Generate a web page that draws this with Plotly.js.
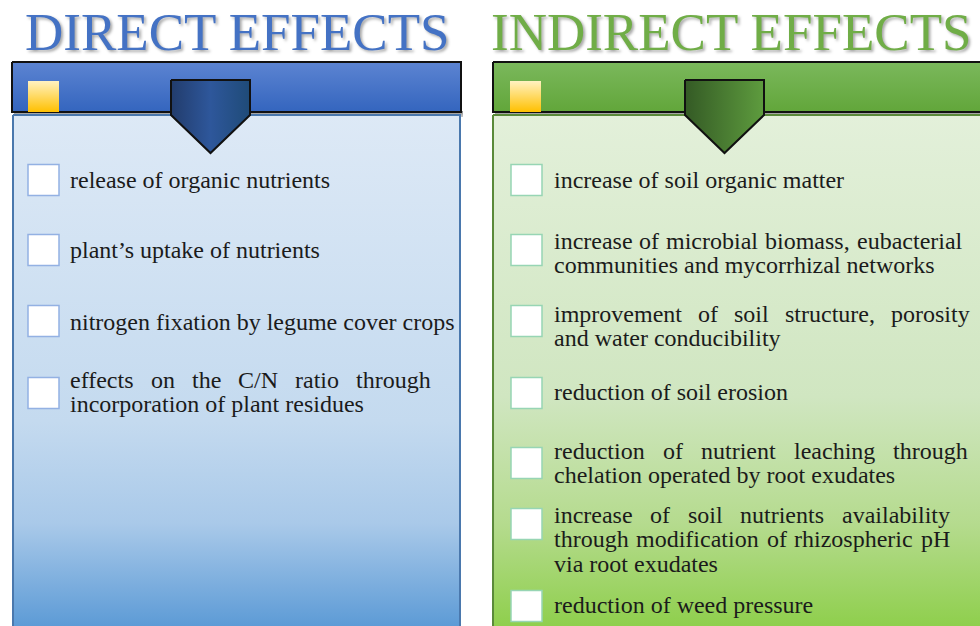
<!DOCTYPE html>
<html>
<head>
<meta charset="utf-8">
<script src="https://cdn.plot.ly/plotly-3.0.1.min.js"></script>
<style>
  body { margin: 0; background: #fff; }
  #chart { width: 980px; height: 626px; }
</style>
</head>
<body>
<div id="chart"></div>
<script>
// titles and item texts (one entry per line of text)
var directTitle = "DIRECT EFFECTS";
var indirectTitle = "INDIRECT EFFECTS";

var directItems = [
  ["release of organic nutrients"],
  ["plant\u2019s uptake of nutrients"],
  ["nitrogen fixation by legume cover crops"],
  ["effects on the C/N ratio through", "incorporation of plant residues"]
];

var indirectItems = [
  ["increase of soil organic matter"],
  ["increase of microbial biomass, eubacterial", "communities and mycorrhizal networks"],
  ["improvement of soil structure, porosity", "and water conducibility"],
  ["reduction of soil erosion"],
  ["reduction of nutrient leaching through", "chelation operated by root exudates"],
  ["increase of soil nutrients availability", "through modification of rhizospheric pH", "via root exudates"],
  ["reduction of weed pressure"]
];

// layout in pixels (y grows downwards)
var directBoxY = [180, 250, 321, 393];
var directTextY = [180, 250, 322, 392];
var directJustify = [0, 0, 0, 430];
var indirectBoxY = [180, 250, 321, 393, 463, 524, 606];
var indirectTextY = [180, 253, 326, 392, 463, 539, 605];
var indirectJustify = [0, 961, 969, 0, 967, 949, 0];
var lineGap = 24.5;
var fontSize = 24;
var serif = "Liberation Serif";

var ctx = document.createElement("canvas").getContext("2d");
ctx.font = fontSize + "px \"" + serif + "\"";

function rectPoly(x0, x1, y0, y1, grad, lineColor, lineWidth) {
  return {
    type: "scatter", mode: "lines",
    x: [x0, x1, x1, x0, x0], y: [y0, y0, y1, y1, y0],
    fill: "toself", fillgradient: grad,
    line: {color: lineColor || "rgba(0,0,0,0)", width: lineWidth || 0},
    hoverinfo: "skip", showlegend: false
  };
}

function vgrad(y0, y1, scale) {
  return {type: "vertical", start: y0, stop: y1, colorscale: scale};
}

function arrow(x0, x1, yTop, yMid, yTip, scale) {
  var xm = (x0 + x1) / 2;
  return {
    type: "scatter", mode: "lines",
    x: [x0, x1, x1, xm, x0, x0], y: [yTop, yTop, yMid, yTip, yMid, yTop],
    fill: "toself",
    fillgradient: {type: "horizontal", start: x0, stop: x1, colorscale: scale},
    line: {color: "#111", width: 2},
    hoverinfo: "skip", showlegend: false
  };
}

var yellow = [[0, "#fff2c2"], [1, "#ffc000"]];

var traces = [
  // left column
  rectPoly(14, 463, 111, 117, vgrad(111, 117, [[0, "#8a8a8a"], [1, "#c8c8c8"]])),
  rectPoly(13, 460, 115, 640,
    vgrad(115, 626, [[0, "#dde9f6"], [0.6, "#c4daef"], [0.8, "#a9c9e9"], [1, "#5d9bd6"]]),
    "#4a78ad", 2),
  rectPoly(12, 461, 62, 112,
    vgrad(62, 112, [[0, "#5c84d2"], [1, "#3465be"]]), "#111", 2),
  rectPoly(28, 59, 81, 112, vgrad(81, 112, yellow)),
  arrow(171, 250, 80, 115, 153, [[0, "#223c6c"], [0.5, "#2e579b"], [1, "#1f4b78"]]),
  // right column
  rectPoly(495, 990, 111, 117, vgrad(111, 117, [[0, "#8a8a8a"], [1, "#c8c8c8"]])),
  rectPoly(493, 990, 115, 640,
    vgrad(115, 626, [[0, "#e3f0da"], [0.55, "#d0e6c1"], [0.8, "#b5db8e"], [1, "#8fcf4d"]]),
    "#5a8a3a", 2),
  rectPoly(493, 990, 62, 112,
    vgrad(62, 112, [[0, "#7bb85c"], [1, "#62a63a"]]), "#111", 2),
  rectPoly(510, 541, 81, 112, vgrad(81, 112, yellow)),
  arrow(685, 764, 80, 115, 153, [[0, "#345a25"], [1, "#5e9c3e"]])
];

var shapes = [];
var annotations = [];

function addTitle(text, x, color) {
  annotations.push({
    x: x, y: 32, xref: "x", yref: "y", text: text, showarrow: false,
    xanchor: "center", yanchor: "middle",
    font: {family: serif, size: 53, color: color, shadow: "2px 2px 3px rgba(0,0,0,0.35)"}
  });
}

function addWord(text, x, y) {
  annotations.push({
    x: x, y: y, xref: "x", yref: "y", text: text, showarrow: false,
    xanchor: "left", yanchor: "middle", borderpad: 0,
    font: {family: serif, size: fontSize, color: "#1b1b1b"}
  });
}

function addItems(items, boxX, boxY, textX, textY, justify, boxColor) {
  items.forEach(function(lines, i) {
    shapes.push({
      type: "rect", xref: "x", yref: "y", layer: "above",
      x0: boxX, x1: boxX + 31, y0: boxY[i] - 15.5, y1: boxY[i] + 15.5,
      fillcolor: "#ffffff", line: {color: boxColor, width: 1.5}
    });
    var y0 = textY[i] - (lines.length - 1) * lineGap / 2;
    lines.forEach(function(line, j) {
      var y = y0 + j * lineGap;
      var last = j === lines.length - 1;
      if (!justify[i] || last) {
        addWord(line, textX, y);
        return;
      }
      // justified line: spread words to the right edge
      var words = line.split(" ");
      var widths = words.map(function(w) { return ctx.measureText(w).width; });
      var total = widths.reduce(function(a, b) { return a + b; }, 0);
      var gap = (justify[i] - textX - total) / (words.length - 1);
      var x = textX;
      words.forEach(function(w, k) {
        addWord(w, x, y);
        x += widths[k] + gap;
      });
    });
  });
}

addTitle(directTitle, 237, "#4472c4");
addTitle(indirectTitle, 731, "#70ad47");
addItems(directItems, 28, directBoxY, 69, directTextY, directJustify, "#93b1e3");
addItems(indirectItems, 511, indirectBoxY, 553, indirectTextY, indirectJustify, "#97d5b4");

var layout = {
  width: 980, height: 626,
  margin: {l: 0, r: 0, t: 0, b: 0},
  paper_bgcolor: "#ffffff", plot_bgcolor: "#ffffff",
  xaxis: {range: [0, 980], visible: false, fixedrange: true},
  yaxis: {range: [626, 0], visible: false, fixedrange: true},
  shapes: shapes,
  annotations: annotations,
  showlegend: false
};

Plotly.newPlot("chart", traces, layout, {displayModeBar: false, staticPlot: true});
</script>
</body>
</html>
